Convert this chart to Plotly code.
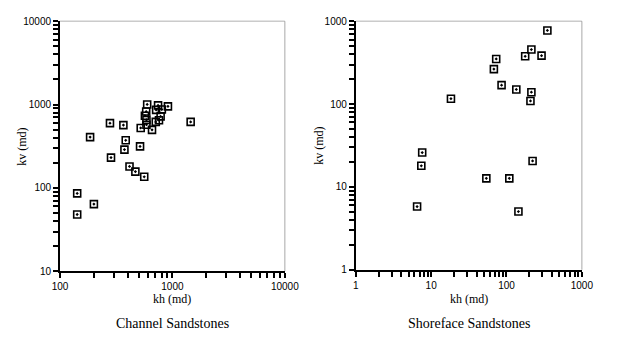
import math
import plotly.graph_objects as go

# Channel sandstones: horizontal vs vertical permeability (md)
channel_kh = [142, 142, 200, 185, 278, 284, 366, 384, 374, 415, 468, 561, 515, 522,
              596, 584, 569, 587, 587, 658, 711, 745, 716, 805, 785, 759, 912, 1453]
channel_kv = [86, 48, 64, 407, 598, 231, 567, 373, 288, 181, 157, 136, 315, 524,
              1003, 825, 735, 655, 573, 497, 619, 977, 863, 871, 721, 649, 951, 619]

# Shoreface sandstones
shoreface_kh = [349, 214, 177, 292, 73, 68, 86, 135, 214, 208, 18.3, 7.6, 7.4, 6.5,
                222, 54, 109, 144]
shoreface_kv = [773, 455, 377, 384, 350, 264, 169, 150, 139, 109, 116, 26, 18, 5.8,
                20.6, 12.7, 12.7, 5.05]

left_ticks = [100, 1000, 10000]
left_yticks = [10, 100, 1000, 10000]
right_ticks = [1, 10, 100, 1000]

W, H = 618, 348
TICK_FONT = dict(family="Liberation Sans, Arial, sans-serif", size=10, color="black")
SERIF = "Liberation Serif, Times New Roman, serif"

fig = go.Figure()

marker = dict(symbol="square-open-dot", size=7, color="black",
              line=dict(color="black", width=1.6))

fig.add_trace(go.Scatter(x=channel_kh, y=channel_kv, mode="markers",
                         marker=marker, xaxis="x", yaxis="y", showlegend=False))
fig.add_trace(go.Scatter(x=shoreface_kh, y=shoreface_kv, mode="markers",
                         marker=marker, xaxis="x2", yaxis="y2", showlegend=False))

# Plot areas in pixels
L = dict(x0=54, x1=287, y0=16.7, y1=275)
R = dict(x0=360.7, x1=595, y0=16.7, y1=273.5)


def xdom(a):
    return [a["x0"] / W, a["x1"] / W]


def ydom(a):
    return [(H - a["y1"]) / H, (H - a["y0"]) / H]


def log_axis(domain, anchor, ticks):
    # labelled decade ticks plus unlabelled 2..9 ticks inside each decade
    vals, text = [], []
    for i, t in enumerate(ticks):
        vals.append(t)
        text.append(str(t))
        if i < len(ticks) - 1:
            for k in range(2, 10):
                vals.append(k * t)
                text.append("")
    return dict(
        type="log", domain=domain, anchor=anchor,
        range=[math.log10(ticks[0]), math.log10(ticks[-1])],
        tickmode="array", tickvals=vals, ticktext=text,
        ticks="outside", ticklen=5, tickwidth=1.5, tickcolor="#000000",
        showline=True, linecolor="black", linewidth=2,
        showgrid=False, zeroline=False, tickfont=TICK_FONT,
    )


fig.update_layout(
    template="simple_white",
    width=W, height=H,
    margin=dict(l=0, r=0, t=0, b=0),
    paper_bgcolor="white", plot_bgcolor="white",
    xaxis=log_axis(xdom(L), "y", left_ticks),
    yaxis=log_axis(ydom(L), "x", left_yticks),
    xaxis2=log_axis(xdom(R), "y2", right_ticks),
    yaxis2=log_axis(ydom(R), "x2", right_ticks),
)

# Thin frame lines on top and right of each panel
for xr, yr in (("x", "y"), ("x2", "y2")):
    fig.add_shape(type="line", xref=f"{xr} domain", yref=f"{yr} domain",
                  x0=0, x1=1, y0=1, y1=1, line=dict(color="#555555", width=1.5))
    fig.add_shape(type="line", xref=f"{xr} domain", yref=f"{yr} domain",
                  x0=1, x1=1, y0=0, y1=1, line=dict(color="#444444", width=1.5))


def ann(text, xpx, ypx, size, angle=0):
    fig.add_annotation(text=text, x=xpx / W, y=(H - ypx) / H, xref="paper", yref="paper",
                       showarrow=False, xanchor="center", yanchor="middle",
                       textangle=angle, font=dict(family=SERIF, size=size, color="black"))


for a, sub in ((L, "Channel Sandstones"), (R, "Shoreface Sandstones")):
    cx = (a["x0"] + a["x1"]) / 2
    cy = (a["y0"] + a["y1"]) / 2
    ann("kh (md)", cx, 304, 12)
    ann("kv (md)", a["x0"] - 39, cy, 12, angle=-90)
    ann(sub, cx, 329, 14)

fig.write_html("out.html")
